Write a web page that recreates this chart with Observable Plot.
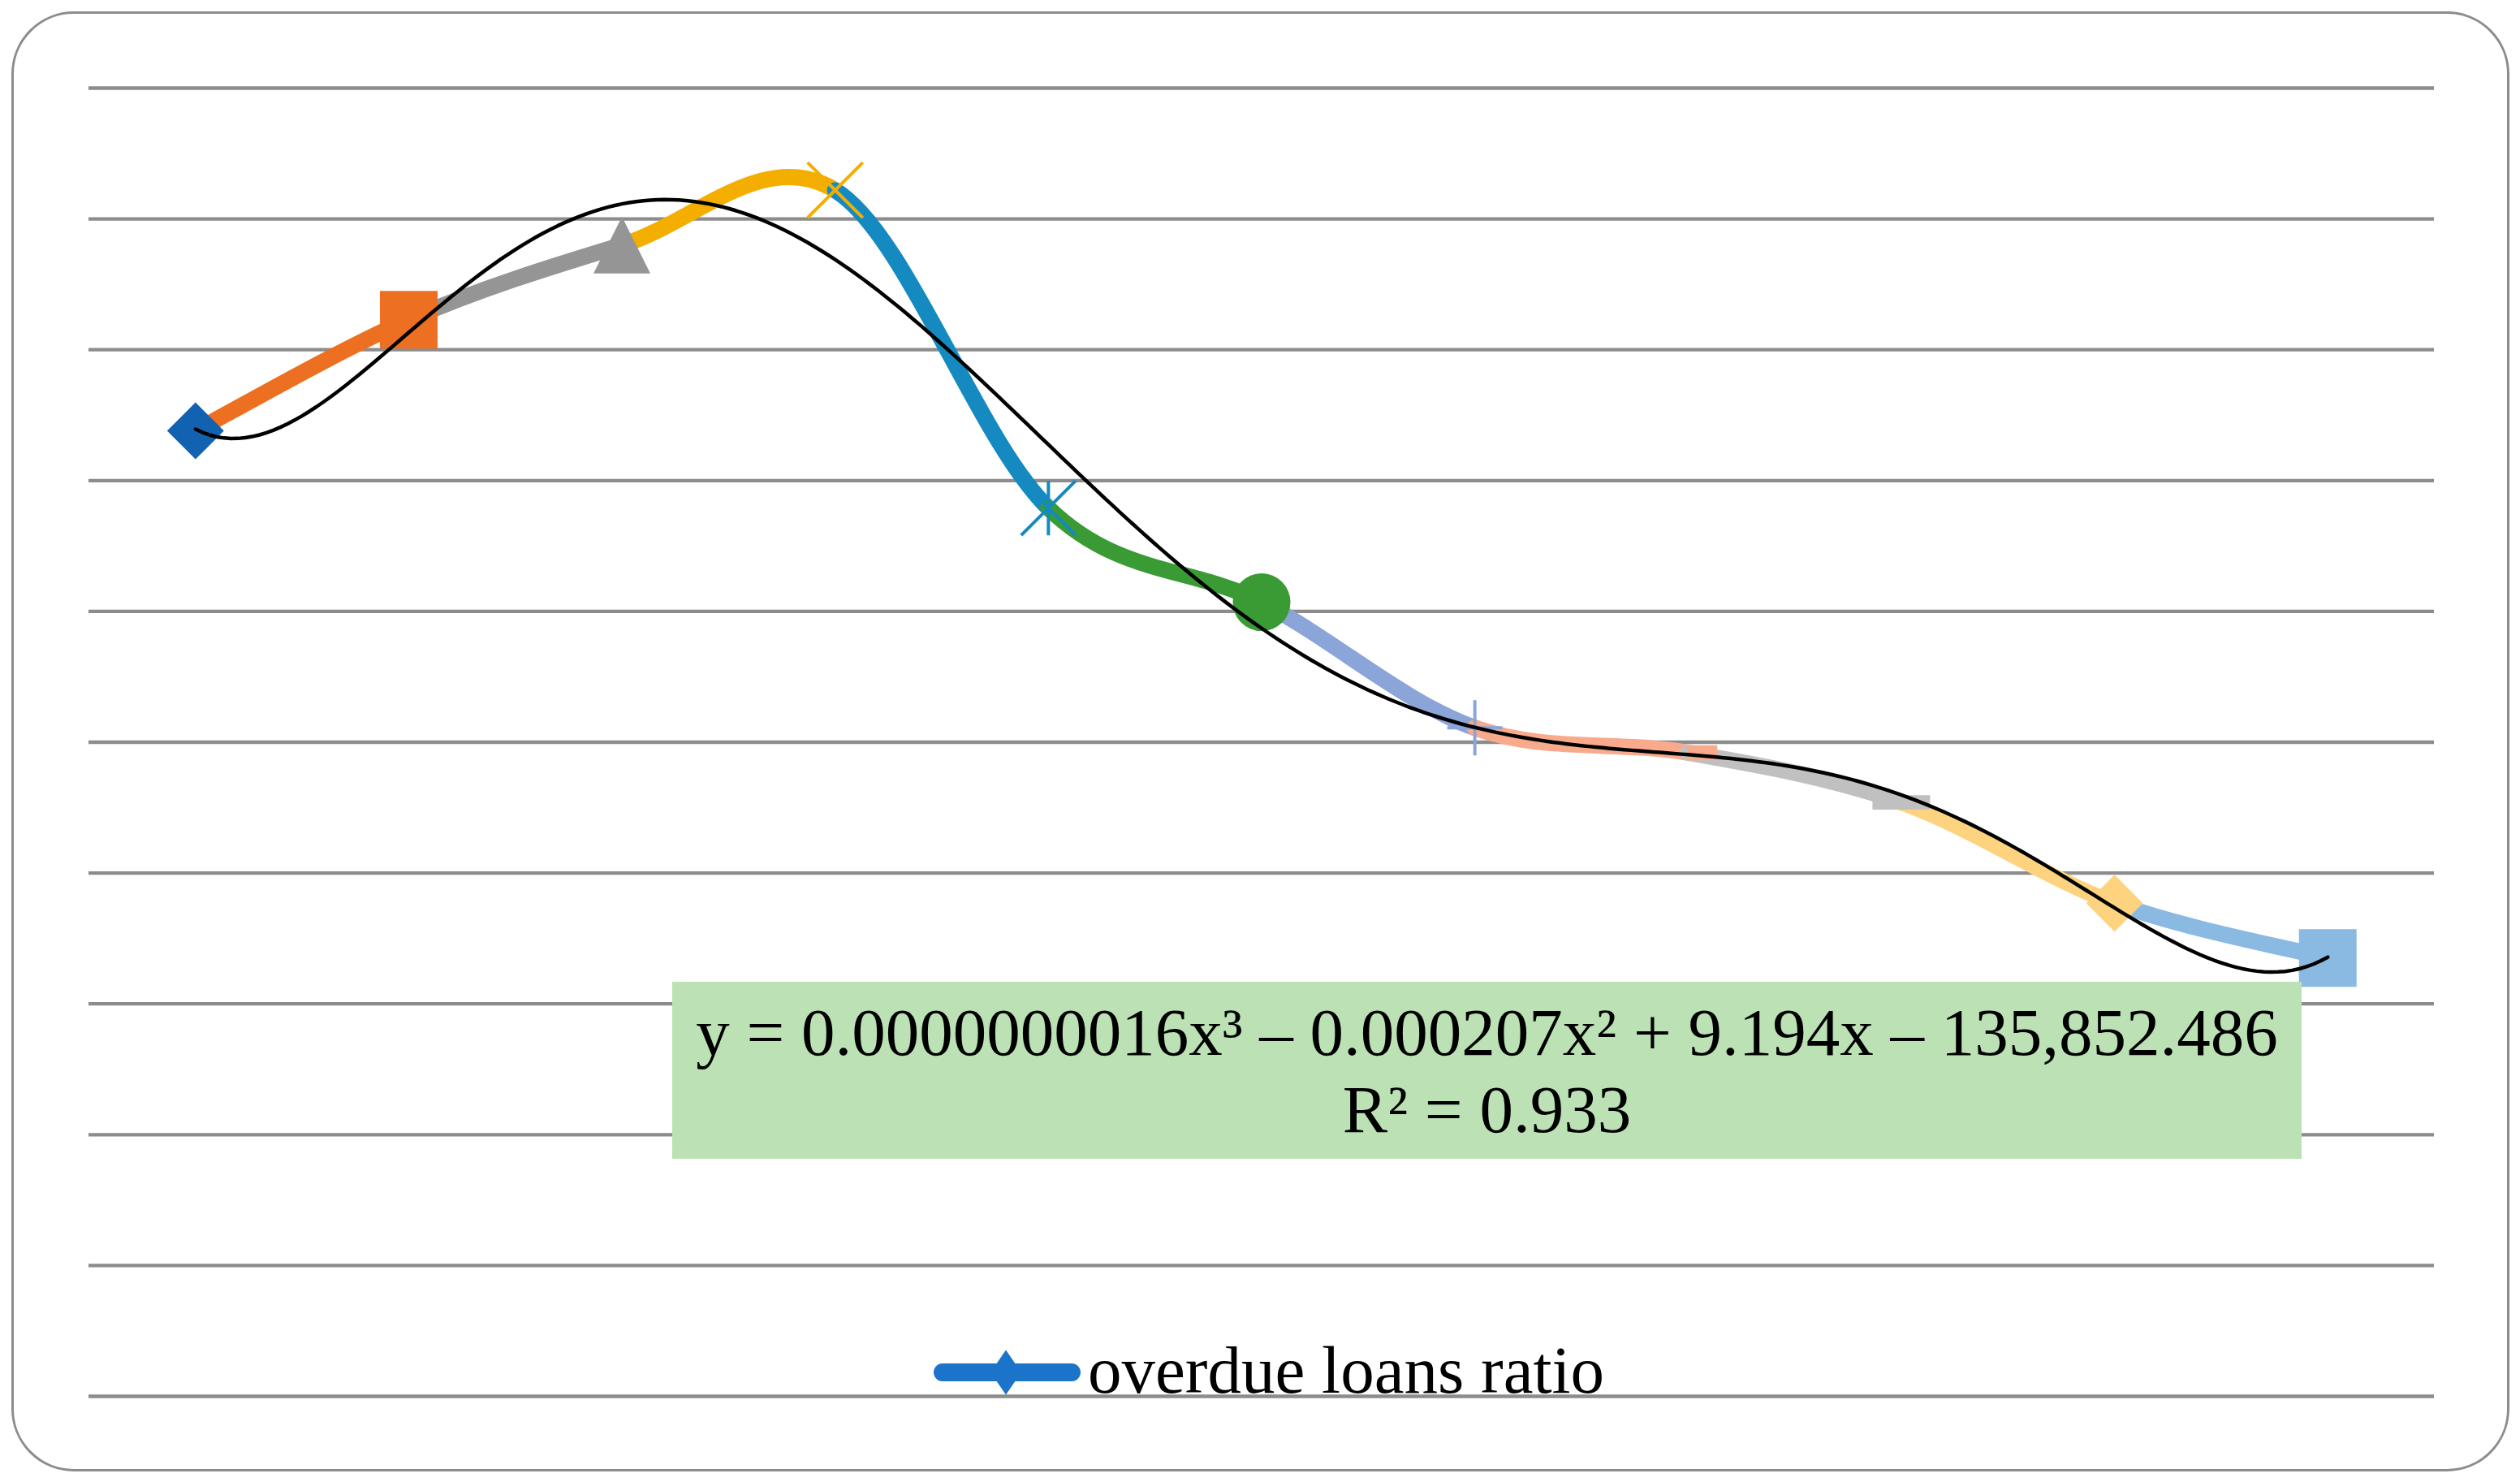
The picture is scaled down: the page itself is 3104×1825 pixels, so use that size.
<!DOCTYPE html>
<html>
<head>
<meta charset="utf-8">
<script src="https://cdn.jsdelivr.net/npm/d3@7"></script>
<script src="https://cdn.jsdelivr.net/npm/@observablehq/plot@0.6"></script>
<style>
  html, body { margin: 0; padding: 0; background: #ffffff; }
  #wrap { position: relative; width: 3104px; height: 1825px; overflow: hidden; background: #ffffff;
          font-family: "Liberation Serif", "Times New Roman", serif; }
  #wrap svg.plot { position: absolute; left: 0; top: 0; }
  #frame { position: absolute; left: 14px; top: 14px; width: 3077px; height: 1798px; box-sizing: border-box;
           border: 3px solid #8c8c8c; border-radius: 77px; pointer-events: none; }
  #eq { position: absolute; left: 828px; top: 1209px; width: 2007px; height: 218px; background: #bbe1b5;
        box-sizing: border-box; padding-top: 15px; text-align: center; font-size: 83px; line-height: 95px; color: #000; white-space: nowrap; }
  #legendSwatch { position: absolute; left: 1140px; top: 1660px; }
  #legendText { position: absolute; left: 1340px; top: 1646px; font-size: 83px; line-height: 83px; color: #000; white-space: nowrap; }
</style>
</head>
<body>
<div id="wrap"></div>
<script>
// ---- data ----
const categories = ["P1", "P2", "P3", "P4", "P5", "P6", "P7", "P8", "P9", "P10", "P11"];
const overdueRatio = [7.38, 8.23, 8.80, 9.22, 6.79, 6.07, 5.11, 4.92, 4.54, 3.77, 3.35];
const gridValues = [0, 1, 2, 3, 4, 5, 6, 7, 8, 9, 10];
const seriesName = "overdue loans ratio";
const equationText = "y = 0.0000000016x³ – 0.000207x² + 9.194x – 135,852.486";
const r2Text = "R² = 0.933";
const trendDegree = 6;

// ---- styles (per point, Excel "vary colors by point") ----
const pointColors = ["#1163b1", "#ec6f22", "#959595", "#f4ae00", "#158ac0", "#3a9a34",
                     "#8ba5d8", "#f9aa8c", "#c0c0c0", "#fed37f", "#8ab9e1"];
const pointMarkers = ["diamond", "square", "triangle", "times", "star", "circle",
                      "plus", "dash", "longdash", "diamond", "square"];
const legendColor = "#1b74c9";

const data = categories.map((c, i) => ({i, cat: c, value: overdueRatio[i]}));

// Excel-like smoothed segment: draws only the middle of 4 points as a cubic Bezier
function segmentCurve(context) {
  let pts = [];
  return {
    areaStart() {}, areaEnd() {},
    lineStart() { pts = []; },
    point(x, y) { pts.push([+x, +y]); },
    lineEnd() {
      if (pts.length < 4) return;
      const [a, b, c, d] = pts;
      context.moveTo(b[0], b[1]);
      context.bezierCurveTo(
        b[0] + (c[0] - a[0]) / 6, b[1] + (c[1] - a[1]) / 6,
        c[0] - (d[0] - b[0]) / 6, c[1] - (d[1] - b[1]) / 6,
        c[0], c[1]);
    }
  };
}

// custom marker symbols (h = half extent in px, from r)
const H = (size) => Math.sqrt(size / Math.PI);
const symbols = {
  diamond: {draw(ctx, s) { const h = H(s); ctx.moveTo(0, -h); ctx.lineTo(h, 0); ctx.lineTo(0, h); ctx.lineTo(-h, 0); ctx.closePath(); }},
  square: {draw(ctx, s) { const h = H(s); ctx.rect(-h, -h, 2 * h, 2 * h); }},
  triangle: {draw(ctx, s) { const h = H(s); ctx.moveTo(0, -h); ctx.lineTo(h, h); ctx.lineTo(-h, h); ctx.closePath(); }},
  times: {draw(ctx, s) { const h = H(s); ctx.moveTo(-h, -h); ctx.lineTo(h, h); ctx.moveTo(h, -h); ctx.lineTo(-h, h); }},
  star: {draw(ctx, s) { const h = H(s); ctx.moveTo(-h, -h); ctx.lineTo(h, h); ctx.moveTo(h, -h); ctx.lineTo(-h, h); ctx.moveTo(0, -h); ctx.lineTo(0, h); }},
  circle: {draw(ctx, s) { const h = H(s); ctx.moveTo(h, 0); ctx.arc(0, 0, h, 0, 2 * Math.PI); }},
  plus: {draw(ctx, s) { const h = H(s); ctx.moveTo(0, -h); ctx.lineTo(0, h); ctx.moveTo(-h, 0); ctx.lineTo(h, 0); }},
  dash: {draw(ctx, s) { const h = H(s); ctx.rect(-1, -h / 4, h, h / 2); }},
  longdash: {draw(ctx, s) { const h = H(s); ctx.rect(-h, -h / 4, 2 * h, h / 2); }}
};
const markerStyle = {
  diamond: {r: 35, filled: true}, square: {r: 35.5, filled: true}, triangle: {r: 35, filled: true},
  times: {r: 34, filled: false}, star: {r: 33.5, filled: false}, circle: {r: 35.5, filled: true},
  plus: {r: 34, filled: false}, dash: {r: 37, filled: true}, longdash: {r: 35.5, filled: true}
};

// least-squares polynomial trendline
function polyFit(xs, ys, deg) {
  const n = deg + 1;
  const xm = d3.mean(xs), xsd = (d3.max(xs) - d3.min(xs)) / 2;
  const t = xs.map(x => (x - xm) / xsd);
  const A = Array.from({length: n}, () => new Array(n + 1).fill(0));
  for (let k = 0; k < t.length; k++) {
    for (let r = 0; r < n; r++) {
      for (let c = 0; c < n; c++) A[r][c] += Math.pow(t[k], r + c);
      A[r][n] += ys[k] * Math.pow(t[k], r);
    }
  }
  for (let col = 0; col < n; col++) {
    let piv = col;
    for (let r = col + 1; r < n; r++) if (Math.abs(A[r][col]) > Math.abs(A[piv][col])) piv = r;
    [A[col], A[piv]] = [A[piv], A[col]];
    for (let r = 0; r < n; r++) {
      if (r === col) continue;
      const f = A[r][col] / A[col][col];
      for (let c = col; c <= n; c++) A[r][c] -= f * A[col][c];
    }
  }
  const coef = A.map((row, r) => row[n] / row[r]);
  return x => { const u = (x - xm) / xsd; return coef.reduce((s, c, p) => s + c * Math.pow(u, p), 0); };
}
const xsIdx = data.map(d => d.i);
const trendFn = polyFit(xsIdx, overdueRatio, trendDegree);
const trendSamples = d3.range(0, 301).map(k => { const x = k / 300 * (data.length - 1); return {x, y: trendFn(x)}; });

const marks = [Plot.ruleY(gridValues, {stroke: "#8c8c8c", strokeWidth: 4.3})];
for (let s = 0; s < data.length - 1; s++) {
  const quad = [data[Math.max(s - 1, 0)], data[s], data[s + 1], data[Math.min(s + 2, data.length - 1)]];
  marks.push(Plot.line(quad, {x: "i", y: "value", curve: segmentCurve, stroke: pointColors[s + 1],
    strokeWidth: 20, strokeLinecap: "round", strokeLinejoin: "round"}));
}
data.forEach((d, i) => {
  const m = pointMarkers[i], st = markerStyle[m];
  marks.push(Plot.dot([d], st.filled
    ? {x: "i", y: "value", r: st.r, symbol: symbols[m], fill: pointColors[i], stroke: "none"}
    : {x: "i", y: "value", r: st.r, symbol: symbols[m], fill: "none", stroke: pointColors[i], strokeWidth: 4}));
});
marks.push(Plot.line(trendSamples, {x: "x", y: "y", stroke: "#000000", strokeWidth: 4.5}));

const chart = Plot.plot({
  width: 3104, height: 1825,
  marginLeft: 109, marginRight: 106, marginTop: 108, marginBottom: 106,
  x: {type: "linear", domain: [-0.5, data.length - 0.5], axis: null},
  y: {type: "linear", domain: [0, 10], axis: null},
  style: {background: "transparent", overflow: "visible"},
  marks
});
chart.classList.add("plot");
const wrap = document.getElementById("wrap");
wrap.appendChild(chart);

const frame = document.createElement("div"); frame.id = "frame"; wrap.appendChild(frame);

const eq = document.createElement("div"); eq.id = "eq";
const l1 = document.createElement("div"); l1.textContent = equationText;
const l2 = document.createElement("div"); l2.textContent = r2Text;
eq.appendChild(l1); eq.appendChild(l2); wrap.appendChild(eq);

const ns = "http://www.w3.org/2000/svg";
const sw = document.createElementNS(ns, "svg");
sw.setAttribute("id", "legendSwatch"); sw.setAttribute("width", 200); sw.setAttribute("height", 60);
const ln = document.createElementNS(ns, "line");
ln.setAttribute("x1", 21); ln.setAttribute("x2", 180); ln.setAttribute("y1", 30); ln.setAttribute("y2", 30);
ln.setAttribute("stroke", legendColor); ln.setAttribute("stroke-width", 22); ln.setAttribute("stroke-linecap", "round");
const dm = document.createElementNS(ns, "path");
dm.setAttribute("d", "M99,2.5 L118,30 L99,57.5 L80,30 Z"); dm.setAttribute("fill", legendColor);
sw.appendChild(ln); sw.appendChild(dm); wrap.appendChild(sw);
const lt = document.createElement("div"); lt.id = "legendText"; lt.textContent = seriesName; wrap.appendChild(lt);
</script>
</body>
</html>
